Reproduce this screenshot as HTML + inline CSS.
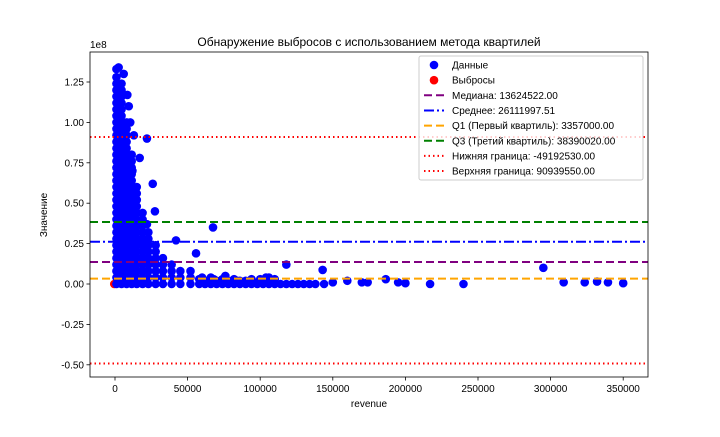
<!DOCTYPE html>
<html><head><meta charset="utf-8"><style>
body{margin:0;background:#fff;}
svg text{font-family:"Liberation Sans","DejaVu Sans",sans-serif;}
</style></head><body>
<svg id="c" width="720" height="432" xmlns="http://www.w3.org/2000/svg">
<rect width="720" height="432" fill="#fff"/>
<g id="grid"></g><g id="pts"></g><g id="lines"></g><g id="axes"></g><g id="legend"></g>
</svg>
<script>
// revenue (x) and value (y, in millions) of the data points
const revenue = [
1000,1000,1000,1000,1000,1000,1000,1000,1000,1000,1000,1000,1000,1000,1000,1000,1000,1000,1000,1000,1000,1000,1000,1000,1000,1000,1000,1000,1000,1000,1000,1000,1000,1000,
4500,4500,4500,4500,4500,4500,4500,4500,4500,4500,4500,4500,4500,4500,4500,4500,4500,4500,4500,4500,4500,4500,4500,4500,4500,4500,4500,4500,4500,4500,4500,4500,
8000,8000,8000,8000,8000,8000,8000,8000,8000,8000,8000,8000,8000,8000,8000,8000,8000,8000,8000,8000,8000,8000,8000,8000,8000,8000,
11500,11500,11500,11500,11500,11500,11500,11500,11500,11500,11500,11500,11500,11500,11500,11500,11500,11500,11500,11500,11500,
15000,15000,15000,15000,15000,15000,15000,15000,15000,15000,15000,15000,15000,15000,15000,15000,
19000,19000,19000,19000,19000,19000,19000,19000,19000,19000,19000,19000,
23000,23000,23000,23000,23000,23000,23000,23000,23000,
28000,28000,28000,28000,28000,28000,28000,
33000,33000,33000,33000,33000,
39000,39000,39000,39000,
45000,45000,45000,52000,52000,52000,
58000,62000,66000,70000,74000,78000,82000,86000,90000,94000,98000,102000,106000,110000,114000,118000,122000,126000,130000,134000,138000,144000,
58000,62000,66000,70000,74000,78000,82000,86000,90000,94000,98000,102000,106000,110000,
60000,68000,76000,84000,100000,104000,
22000,26000,27500,22000,67500,55800,118000,143000,295000,27500,42000,
150000,160000,170000,174000,186500,195000,200000,217000,240000,309000,323500,332000,339500,350000,
10500,13000,12000,17000,9500,8500,2500,6000,3000
];
const value = [
0,4,8,12,16,20,24,28,32,36,40,44,48,52,56,60,64,68,72,76,80,84,88,92,96,100,104,108,112,116,120,124,128,133,
0,4,8,12,16,20,24,28,32,36,40,44,48,52,56,60,64,68,72,76,80,84,88,92,96,100,104,108,112,116,120,124,
0,4,8,12,16,20,24,28,32,36,40,44,48,52,56,60,64,68,72,76,80,84,88,92,96,100,
0,4,8,12,16,20,24,28,32,36,40,44,48,52,56,60,64,68,72,76,80,
0,4,8,12,16,20,24,28,32,36,40,44,48,52,56,60,
0,4,8,12,16,20,24,28,32,36,40,44,
0,4,8,12,16,20,24,28,32,
0,4,8,12,16,20,24,
0,4,8,12,16,
0,4,8,12,
0,4,8,0,4,8,
0,0,0,0,0,0,0,0,0,0,0,0,0,0,0,0,0,0,0,0,0,0,
3,2,4,2,3,2,3,2,2,3,1,2,4,3,
4,3,5,2,3,4,
90,62,45,37,35,19,12,8.7,10,13,27,
1,2,1,1,3,1,0.5,0,0,1,1,1.5,1,0.5,
100,92,70,78,110,117,134,130,120
];
// outliers
const outRevenue = [-500];
const outValue = [0];
// statistics (raw values)
const statNames = ["Медиана: 13624522.00","Среднее: 26111997.51","Q1 (Первый квартиль): 3357000.00","Q3 (Третий квартиль): 38390020.00","Нижняя граница: -49192530.00","Верхняя граница: 90939550.00"];
const statValues = [13624522, 26111997.51, 3357000, 38390020, -49192530, 90939550];
const statColors = ["purple","blue","orange","green","red","red"];
const statDash = ["8,4","10,3,2,3","8,4","8,4","1.5,3","1.5,3"];
const xTicks = [0,50000,100000,150000,200000,250000,300000,350000];
const yTicks = [-0.5,-0.25,0,0.25,0.5,0.75,1.0,1.25];

const L=90,R=648,T=52,B=377;
const xS=v=>115+v/50000*72.6;
const yS=v=>284-v/1e8*161.6;
const NS="http://www.w3.org/2000/svg";
function mk(tag,attrs,parent,txt){const e=document.createElementNS(NS,tag);for(const k in attrs)e.setAttribute(k,attrs[k]);if(txt!==undefined)e.textContent=txt;parent.appendChild(e);return e;}
const pts=document.getElementById('pts'),lines=document.getElementById('lines'),axes=document.getElementById('axes'),leg=document.getElementById('legend');

for(let i=0;i<outRevenue.length;i++){
  const c=mk('circle',{cx:xS(outRevenue[i]),cy:yS(outValue[i]*1e6),r:4.3,fill:'red'},pts);
  
  
}
for(let i=0;i<revenue.length;i++){
  const c=mk('circle',{cx:xS(revenue[i]),cy:yS(value[i]*1e6),r:4.3,fill:'blue'},pts);
  
  
}
for(let i=0;i<statValues.length;i++){
  const y=yS(statValues[i]);
  const l=mk('line',{x1:L,x2:R,y1:y,y2:y,stroke:statColors[i],'stroke-width':2,'stroke-dasharray':statDash[i]},lines);
  
  
}
const fr=mk('rect',{x:L,y:T,width:R-L,height:B-T,fill:'none',stroke:'#000','stroke-width':0.8},axes);


xTicks.forEach(t=>{const x=xS(t);mk('line',{x1:x,x2:x,y1:B,y2:B+3.5,stroke:'#000','stroke-width':0.8},axes);
  const tx=mk('text',{x:x,y:B+15,'font-size':10,'text-anchor':'middle'},axes,String(t));
  
  });
yTicks.forEach(t=>{const y=yS(t*1e8);mk('line',{x1:L-3.5,x2:L,y1:y,y2:y,stroke:'#000','stroke-width':0.8},axes);
  const tx=mk('text',{x:L-6,y:y+3.5,'font-size':10,'text-anchor':'end'},axes,t.toFixed(2));
  
  });
let e;
e=mk('text',{x:L,y:48,'font-size':10},axes,'1e8');
e=mk('text',{x:369,y:46,'font-size':12,'text-anchor':'middle'},axes,'Обнаружение выбросов с использованием метода квартилей');
e=mk('text',{x:369,y:407,'font-size':10,'text-anchor':'middle'},axes,'revenue');
e=mk('text',{x:0,y:0,'font-size':10,'text-anchor':'middle',transform:'translate(47,215) rotate(-90)'},axes,'Значение');

e=mk('rect',{x:419,y:56,width:224,height:124,rx:2,fill:'#fff','fill-opacity':0.8,stroke:'#ccc','stroke-width':1},leg);

const ly=i=>65+i*15.15;
e=mk('circle',{cx:434,cy:ly(0),r:4.3,fill:'blue'},leg);
e=mk('text',{x:452,y:ly(0)+3.5,'font-size':10},leg,'Данные');
e=mk('circle',{cx:434,cy:ly(1),r:4.3,fill:'red'},leg);
e=mk('text',{x:452,y:ly(1)+3.5,'font-size':10},leg,'Выбросы');
for(let i=0;i<statNames.length;i++){
  const y=ly(i+2);
  e=mk('line',{x1:424,x2:444,y1:y,y2:y,stroke:statColors[i],'stroke-width':2,'stroke-dasharray':statDash[i]},leg);
  
  
  e=mk('text',{x:452,y:y+3.5,'font-size':10},leg,statNames[i]);
  
  
}
</script>
</body></html>
